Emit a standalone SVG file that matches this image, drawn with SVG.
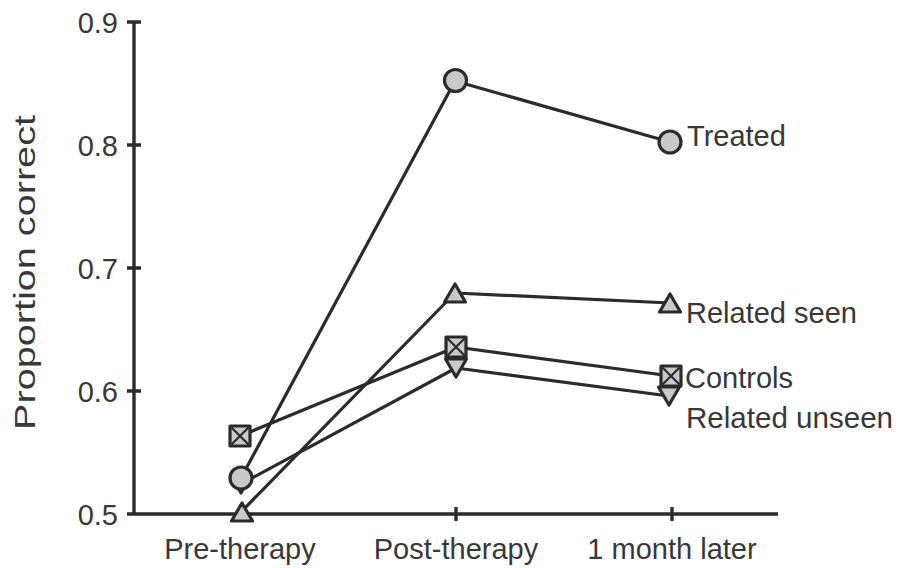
<svg xmlns="http://www.w3.org/2000/svg" width="899" height="568" viewBox="0 0 899 568">
  <style>
    .axis { stroke: #2b2b2b; stroke-width: 3.4; fill: none; }
    .series { stroke: #2b2b2b; stroke-width: 3.2; fill: none; stroke-linejoin: round; }
    .mk { stroke: #2b2b2b; stroke-width: 3.2; fill: #c9c9c9; stroke-linejoin: round; }
    .xmark { stroke: #2b2b2b; stroke-width: 2.2; fill: none; }
    text { font-family: "Liberation Sans", Arial, Helvetica, sans-serif; fill: #383838; font-size: 29px; }
    .tick { text-anchor: end; }
    .cat { text-anchor: middle; }
  </style>
  <defs>
    <path id="triUp" class="mk" d="M0,-9 L10.5,9 L-10.5,9 Z"/>
    <path id="triDown" class="mk" d="M0,9 L10.5,-9 L-10.5,-9 Z"/>
    <g id="boxX">
      <rect class="mk" x="-10" y="-10" width="20" height="20"/>
      <path class="xmark" d="M-8.5,-8.5 L8.5,8.5 M8.5,-8.5 L-8.5,8.5"/>
    </g>
    <circle id="dot" class="mk" r="11"/>
  </defs>

  <!-- axes -->
  <g id="axes">
    <path class="axis" d="M134,22 V514 M127,514 H778"/>
    <path class="axis" d="M127,22 H141 M127,145 H141 M127,268 H141 M127,391 H141"/>
    <path class="axis" d="M456,507 V521 M672,507 V521"/>
    <text class="tick" x="118" y="33">0.9</text>
    <text class="tick" x="118" y="156">0.8</text>
    <text class="tick" x="118" y="279">0.7</text>
    <text class="tick" x="118" y="402">0.6</text>
    <text class="tick" x="118" y="525">0.5</text>
    <text class="cat" x="240" y="559">Pre-therapy</text>
    <text class="cat" x="456" y="559">Post-therapy</text>
    <text class="cat" x="672" y="559">1 month later</text>
    <text transform="translate(35,430) rotate(-90)" font-size="32" textLength="315" lengthAdjust="spacingAndGlyphs">Proportion correct</text>
  </g>

  <!-- connecting lines for each condition -->
  <g id="connectors">
    <polyline class="series" points="241,484 456,368 669,396"/>
    <polyline class="series" points="241,512 455,293 670,303"/>
    <polyline class="series" points="240,436 456,347 671,376"/>
    <polyline class="series" points="241,478 455,81 670,142"/>
  </g>

  <!-- data markers -->
  <g id="related-unseen">
    <use href="#triDown" x="241" y="484"/>
    <use href="#triDown" x="456" y="368"/>
    <use href="#triDown" x="669" y="396"/>
    <text x="686" y="428" textLength="207" lengthAdjust="spacingAndGlyphs">Related unseen</text>
  </g>
  <g id="related-seen">
    <use href="#triUp" x="242" y="512"/>
    <use href="#triUp" x="455" y="293"/>
    <use href="#triUp" x="670" y="303"/>
    <text x="686" y="323">Related seen</text>
  </g>
  <g id="controls">
    <use href="#boxX" x="240" y="436"/>
    <use href="#boxX" x="456" y="347"/>
    <use href="#boxX" x="671" y="376"/>
    <text x="685" y="388">Controls</text>
  </g>
  <g id="treated">
    <use href="#dot" x="241" y="478"/>
    <use href="#dot" x="455.5" y="80.5"/>
    <use href="#dot" x="670" y="142"/>
    <text x="687" y="146">Treated</text>
  </g>
</svg>
